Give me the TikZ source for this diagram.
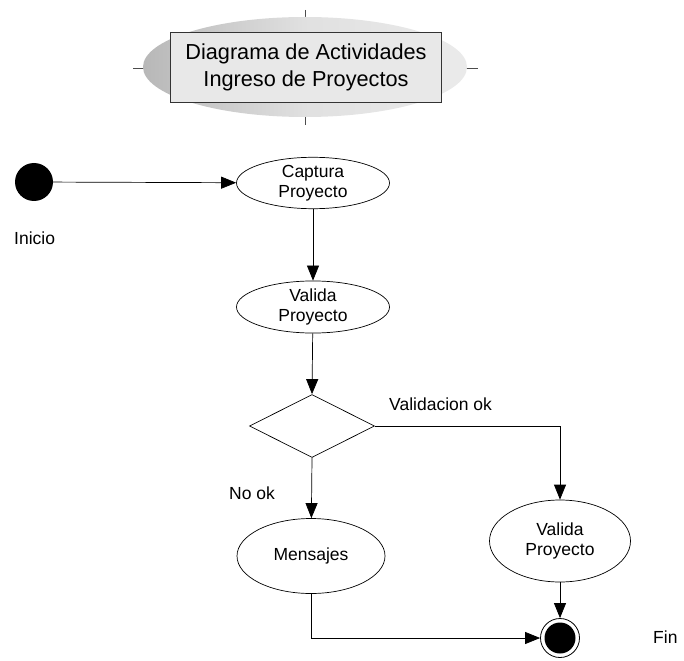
\documentclass[tikz,border=0pt]{standalone}
\usepackage{fontspec}
\setmainfont{Liberation Sans}
\usetikzlibrary{shapes.geometric,arrows.meta}
\begin{document}
\begin{tikzpicture}[x=1pt,y=-1pt,
  every node/.style={font=\fontsize{17.5}{20.5}\selectfont},
  activity/.style={ellipse,draw,line width=0.7pt,align=center,inner sep=0pt},
  decision/.style={diamond,draw,line width=0.7pt,minimum width=125pt,minimum height=63pt,inner sep=0pt},
  flow/.style={line width=0.7pt,-{Triangle[length=15pt,width=12pt]}},
  plain/.style={line width=0.7pt},
  label/.style={anchor=west,inner sep=0pt}]
\useasboundingbox (0,0) rectangle (684,660);

% title banner
\draw[line width=0.6pt,gray!60!black] (133,68) -- (478,68);
\draw[line width=0.6pt,gray!60!black] (305,10) -- (305,125);
\shade[left color=black!28,right color=black!8,middle color=black!12]
  (305,67) ellipse (162pt and 50pt);
\node[draw=black!80,line width=0.8pt,fill=black!9,minimum width=271pt,minimum height=70pt,
  align=center,font=\fontsize{21.7}{27}\selectfont] (title) at (306,67)
  {Diagrama de Actividades\\Ingreso de Proyectos};

% nodes
\node[circle,fill=black,minimum size=38pt,inner sep=0pt] (start) at (34,182) {};
\node[label] (inicio) at (14,238) {Inicio};
\node[activity,minimum width=153pt,minimum height=48pt] (captura) at (313,183) {Captura\\Proyecto};
\node[activity,minimum width=153pt,minimum height=48pt] (valida1) at (313,307) {Valida\\Proyecto};
\node[decision] (dec) at (312,426) {};
\node[label] (okl) at (389,404) {Validacion ok};
\node[label] (nook) at (229,493) {No ok};
\node[activity,minimum width=148pt,minimum height=75pt] (mens) at (311,556) {Mensajes};
\node[activity,minimum width=141pt,minimum height=82pt] (valida2) at (560,541) {Valida\\Proyecto};
\node[circle,draw,line width=0.8pt,fill=white,minimum size=39pt,inner sep=0pt] (fin) at (560,638) {};
\fill (fin.center) circle (15.5pt);
\node[label] (finl) at (653,637) {Fin};
\coordinate (c1) at (560,426);
\coordinate (c2) at (311,638);

% connectors
\draw[flow] (start) -- (captura);
\draw[flow] (captura) -- (valida1);
\draw[flow] (valida1) -- (dec.north);
\draw[flow] (dec.south) -- (mens);
\draw[plain] (dec.east) -- (c1);
\draw[flow] (c1) -- (valida2);
\draw[flow] (valida2) -- (fin);
\draw[plain] (mens) -- (c2);
\draw[flow] (c2) -- (fin);
\end{tikzpicture}
\end{document}
